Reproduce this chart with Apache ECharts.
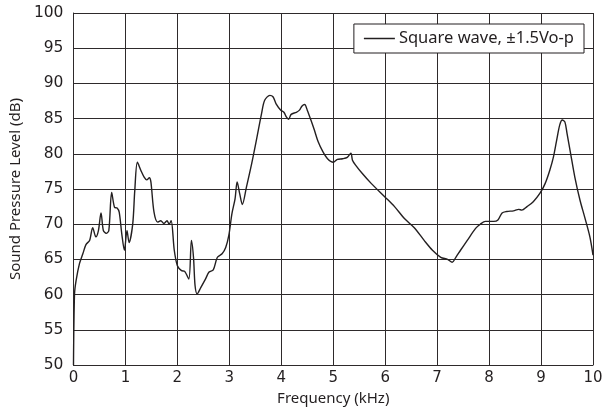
<!DOCTYPE html>
<html><head><meta charset="utf-8">
<script src="https://cdn.jsdelivr.net/npm/echarts@6/dist/echarts.min.js"></script>
<style>html,body{margin:0;padding:0;background:#fff}#c{width:616px;height:414px}</style>
</head><body><div id="c"></div>
<script>
const seriesName = 'Square wave, \u00b11.5Vo-p';
const freqKHz = [0,0.02,0.05,0.115,0.18,0.24,0.31,0.37,0.43,0.48,0.53,0.575,0.63,0.68,0.735,0.79,0.84,0.88,0.93,0.98,1.03,1.07,1.14,1.18,1.23,1.30,1.36,1.41,1.46,1.49,1.55,1.62,1.68,1.74,1.80,1.84,1.88,1.94,2.0,2.08,2.14,2.22,2.27,2.31,2.34,2.38,2.45,2.54,2.61,2.69,2.77,2.86,2.93,2.99,3.05,3.11,3.15,3.2,3.25,3.33,3.43,3.52,3.62,3.68,3.78,3.84,3.90,3.99,4.05,4.10,4.14,4.19,4.29,4.35,4.40,4.45,4.50,4.57,4.64,4.71,4.80,4.89,5.0,5.08,5.18,5.27,5.34,5.37,5.43,5.56,5.73,5.99,6.18,6.37,6.56,6.75,6.91,7.07,7.2,7.29,7.36,7.45,7.58,7.74,7.83,7.93,8.09,8.17,8.25,8.34,8.47,8.57,8.63,8.73,8.85,8.98,9.08,9.17,9.24,9.30,9.36,9.41,9.46,9.5,9.57,9.65,9.75,9.84,9.94,10];
const splDb = [50,60.1,62,64.4,65.8,67.1,67.7,69.5,68.2,69.1,71.6,69.1,68.7,69.1,74.5,72.4,72.3,71.7,68.6,66.3,69.1,67.4,70,74.8,78.8,77.6,76.7,76.3,76.6,76,71.7,70.3,70.5,70.1,70.5,70,70.5,66.3,64.1,63.4,63.3,62.2,67.7,65.3,61.3,60.1,61,62.2,63.2,63.5,65.3,65.8,66.7,68.4,71.5,73.6,76,74.3,72.8,75.3,78.6,81.9,85.7,87.6,88.3,88.1,87.1,86.2,85.9,85.2,84.9,85.6,85.9,86.2,86.8,87,86.2,84.8,83.3,81.7,80.3,79.3,78.8,79.2,79.3,79.5,80.1,79.1,78.4,77.2,75.8,73.9,72.5,70.8,69.5,67.7,66.3,65.3,65,64.6,65.3,66.3,67.7,69.4,70,70.4,70.4,70.6,71.6,71.8,71.9,72.1,72,72.5,73.2,74.4,75.8,77.7,79.6,81.9,84.1,84.8,84.5,82.9,80,76.7,73.4,71,68.2,65.6];
const xTicks = [0,10,1];
const yTicks = [50,100,5];

const chart = echarts.init(document.getElementById('c'));
const tickFont = 'DejaVu Sans';
const nameFont = 'Noto Sans';
const ink = '#231f20';
const gridColor = '#2e2a2b';
chart.setOption({
  animation: false,
  grid: {left: 72, right: 23, top: 13, bottom: 49},
  legend: {
    data: [seriesName], right: 32, top: 24,
    backgroundColor: '#fff', borderColor: ink, borderWidth: 1,
    padding: [6, 10, 6, 10], itemWidth: 31, itemHeight: 1.5, itemGap: 0,
    icon: 'rect',
    textStyle: {fontFamily: nameFont, fontSize: 16.5, color: ink, padding: [0, 0, 0, -1]}
  },
  xAxis: {
    type: 'value', min: xTicks[0], max: xTicks[1], interval: xTicks[2],
    name: 'Frequency (kHz)', nameLocation: 'middle', nameGap: 26,
    nameTextStyle: {fontFamily: nameFont, fontSize: 15, color: ink},
    axisLine: {show: true, lineStyle: {color: gridColor, width: 1}},
    axisTick: {show: false},
    axisLabel: {fontFamily: tickFont, fontSize: 15, color: ink, margin: 6},
    splitLine: {show: true, lineStyle: {color: gridColor, width: 1}}
  },
  yAxis: {
    type: 'value', min: yTicks[0], max: yTicks[1], interval: yTicks[2],
    name: 'Sound Pressure Level (dB)', nameLocation: 'middle', nameGap: 41,
    nameTextStyle: {fontFamily: nameFont, fontSize: 15, color: ink},
    axisLine: {show: true, lineStyle: {color: gridColor, width: 1}},
    axisTick: {show: false},
    axisLabel: {fontFamily: tickFont, fontSize: 15.5, color: ink, margin: 10},
    splitLine: {show: true, lineStyle: {color: gridColor, width: 1}}
  },
  series: [{
    name: seriesName, type: 'line', showSymbol: false, smooth: 0.3,
    data: freqKHz.map((f, i) => [f, splDb[i]]),
    lineStyle: {color: ink, width: 1.4},
    itemStyle: {color: ink}
  }]
});
</script></body></html>
